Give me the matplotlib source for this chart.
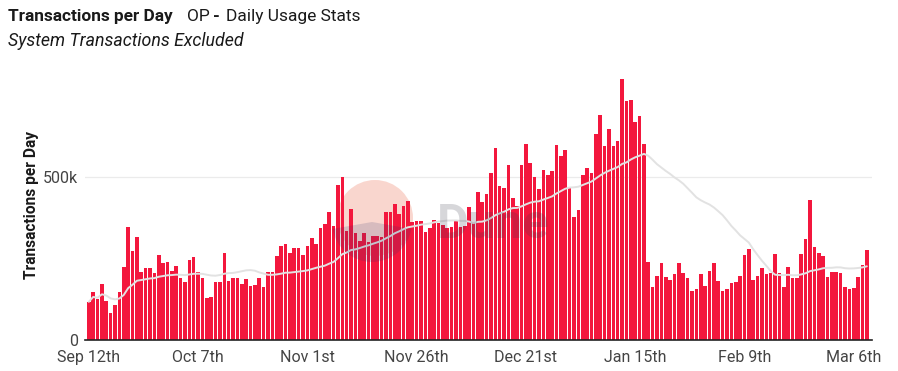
import numpy as np
import pandas as pd
import matplotlib
matplotlib.use("Agg")
import matplotlib.pyplot as plt
import matplotlib.dates as mdates
from matplotlib.patches import Circle, Wedge

# ---------------- data ----------------
start_date = "2022-09-12"
daily_tx_k = [
    117, 147, 125, 172, 121, 84, 107, 146, 225, 346,
    274, 317, 210, 220, 220, 205, 261, 235, 238, 212,
    227, 189, 178, 245, 256, 209, 190, 128, 133, 178,
    179, 266, 181, 191, 191, 173, 188, 167, 169, 189,
    164, 208, 208, 257, 288, 294, 268, 283, 283, 262,
    288, 313, 293, 343, 356, 393, 350, 475, 499, 335,
    401, 329, 304, 327, 302, 319, 319, 317, 394, 394,
    417, 385, 411, 426, 363, 365, 365, 332, 345, 368,
    358, 353, 343, 348, 368, 348, 350, 409, 358, 453,
    422, 447, 511, 590, 472, 467, 537, 437, 410, 537,
    601, 544, 501, 462, 521, 506, 518, 598, 565, 582,
    465, 376, 398, 505, 526, 511, 631, 690, 595, 646,
    595, 611, 800, 733, 736, 670, 688, 601, 238, 164,
    196, 235, 192, 184, 201, 237, 204, 189, 150, 157,
    201, 166, 212, 235, 182, 150, 156, 174, 177, 197,
    261, 279, 184, 196, 222, 202, 204, 263, 204, 162,
    225, 191, 191, 263, 309, 429, 284, 268, 258, 192,
    208, 208, 204, 162, 155, 160, 194, 230, 276,
]
tick_dates = ["2022-09-12", "2022-10-07", "2022-11-01", "2022-11-26",
              "2022-12-21", "2023-01-15", "2023-02-09", "2023-03-06"]
tick_labels = ["Sep 12th", "Oct 7th", "Nov 1st", "Nov 26th",
               "Dec 21st", "Jan 15th", "Feb 9th", "Mar 6th"]
y_ticks = [0, 500000]
y_tick_labels = ["0", "500k"]
ma_window = 30

# ---------------- prep ----------------
dates = pd.date_range(start_date, periods=len(daily_tx_k), freq="D")
values = np.array(daily_tx_k, dtype=float) * 1000
ma = pd.Series(values).rolling(ma_window, min_periods=1).mean().values
x = mdates.date2num(dates.to_pydatetime())
xt = mdates.date2num(pd.to_datetime(tick_dates).to_pydatetime())

FONT = ["Roboto", "DejaVu Sans"]
plt.rcParams["font.family"] = FONT

W, H = 898, 371
fig = plt.figure(figsize=(W / 100, H / 100), dpi=100)
ax = fig.add_axes([85 / W, 31 / H, 787 / W, 270 / H])

# watermark circle (behind bars)
circ = Circle((375, H - 218), 38, transform=None, facecolor="#eb5d3d",
              alpha=0.25, edgecolor="none", zorder=0.5)
ax.add_artist(circ)

BAR = "#f3173d"
ax.bar(x, values, width=0.82, color=BAR, linewidth=0, zorder=2)
ax.plot(x, ma, color="#e2e2e2", lw=1.4, zorder=4, solid_capstyle="round")

ax.set_xlim(x[0] - 0.87, x[0] - 0.87 + 787 / 4.371)
ax.set_ylim(0, 828000)
ax.set_yticks(y_ticks)
ax.set_yticklabels(y_tick_labels)
ax.set_xticks(xt)
ax.set_xticklabels(tick_labels)
ax.tick_params(axis="both", length=0, labelsize=11.5, labelcolor="#444444")
ax.tick_params(axis="y", pad=5)
ax.tick_params(axis="x", pad=7)
for s in ["top", "right", "left"]:
    ax.spines[s].set_visible(False)
ax.spines["bottom"].set_color("#222222")
ax.spines["bottom"].set_linewidth(1.2)
ax.spines["bottom"].set_zorder(5)
ax.axhline(500000, color="#ebebeb", lw=0.9, zorder=1)

ax.set_ylabel("Transactions per Day", fontsize=11.2, fontweight="bold",
              color="#1a1a1a", labelpad=3)

# watermark dark lower part + wordmark (over bars)
wedge = Wedge((372, H - 222), 40, 190, 350, transform=None,
              facecolor="#2b2f6b", alpha=0.16, edgecolor="none", zorder=6)
fig.patches.append(wedge)
fig.text(437 / W, 1 - 238 / H, "Dune", fontsize=35, fontweight="bold",
         color="#3a3a4a", alpha=0.2, ha="left", va="baseline")

# titles
fig.text(8 / W, 1 - 20.7 / H, "Transactions per Day", fontsize=12.4,
         fontweight="bold", color="#1a1a1a", ha="left", va="baseline")
fig.text(187 / W, 1 - 20.7 / H, "OP", fontsize=12.5, color="#1a1a1a",
         ha="left", va="baseline")
fig.text(212.5 / W, 1 - 20.7 / H, "-", fontsize=12.5, fontweight="bold",
         color="#1a1a1a", ha="left", va="baseline")
fig.text(226 / W, 1 - 20.7 / H, "Daily Usage Stats", fontsize=12.5,
         color="#1a1a1a", ha="left", va="baseline")
fig.text(8 / W, 1 - 45.5 / H, "System Transactions Excluded", fontsize=12.8,
         style="italic", color="#1a1a1a", ha="left", va="baseline")

fig.savefig("out.png", dpi=100, facecolor="white")
